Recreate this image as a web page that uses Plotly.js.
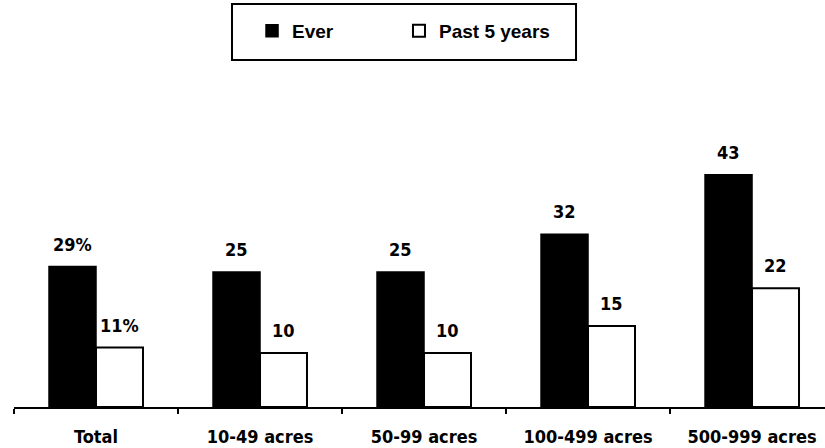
<!DOCTYPE html>
<html>
<head>
<meta charset="utf-8">
<script src="https://cdn.plot.ly/plotly-3.0.1.min.js"></script>
<style>html,body{margin:0;padding:0;background:#fff;}#chart{width:825px;height:448px;}</style>
</head>
<body>
<div id="chart"></div>
<script>
var categories = ["Total", "10-49 acres", "50-99 acres", "100-499 acres", "500-999 acres"];
var everValues = [26, 25, 25, 32, 43];
var past5Values = [11, 10, 10, 15, 22];
var everLabels = ["29%", "25", "25", "32", "43"];
var past5Labels = ["11%", "10", "10", "15", "22"];

var labelFont = {family: "'DejaVu Sans Condensed', 'DejaVu Sans', sans-serif", size: 18, color: "#000", weight: 700};
var legendFont = {family: "'Liberation Sans', Arial, sans-serif", size: 19, color: "#000", weight: 700};

var traces = [
  {type: "bar", name: "Ever", x: categories, y: everValues, legend: "legend",
   marker: {color: "#000", line: {color: "#000", width: 1.5}}, hoverinfo: "skip"},
  {type: "bar", name: "Past 5 years", x: categories, y: past5Values, legend: "legend2",
   marker: {color: "#fff", line: {color: "#000", width: 2}}, hoverinfo: "skip"}
];

var halfGroup = 0.5 * (1 - 0.427) / 2;
var annotations = [];
categories.forEach(function (c, i) {
  annotations.push({x: i - halfGroup, y: everValues[i], xref: "x", yref: "y", text: everLabels[i],
    showarrow: false, yanchor: "bottom", yshift: 10, font: labelFont});
  annotations.push({x: i + halfGroup, y: past5Values[i], xref: "x", yref: "y", text: past5Labels[i],
    showarrow: false, yanchor: "bottom", yshift: 10, font: labelFont});
});

var layout = {
  width: 825, height: 448,
  margin: {l: 14, r: 0, t: 137, b: 41, pad: 0},
  paper_bgcolor: "#fff", plot_bgcolor: "#fff",
  barmode: "group", bargap: 0.427, bargroupgap: 0,
  showlegend: true,
  legend: {orientation: "h", x: 0.2935, xanchor: "left", y: 1.3926, yanchor: "middle",
    bgcolor: "rgba(0,0,0,0)", borderwidth: 0, font: legendFont},
  legend2: {orientation: "h", x: 0.4747, xanchor: "left", y: 1.3926, yanchor: "middle",
    bgcolor: "rgba(0,0,0,0)", borderwidth: 0, font: legendFont},
  xaxis: {type: "category", range: [-0.5, 4.445], showgrid: false, zeroline: false,
    showline: true, linecolor: "#000", linewidth: 2,
    ticks: "outside", tickson: "boundaries", ticklen: 5, tickwidth: 2, tickcolor: "#000",
    ticklabelstandoff: 12,
    tickfont: labelFont, fixedrange: true},
  yaxis: {range: [0, 50], visible: false, showgrid: false, zeroline: false, fixedrange: true},
  shapes: [{type: "rect", xref: "paper", yref: "paper", x0: 0.2688, x1: 0.6930, y0: 1.2852, y1: 1.4926,
    line: {color: "#000", width: 2}, fillcolor: "rgba(0,0,0,0)"}],
  annotations: annotations
};

Plotly.newPlot("chart", traces, layout, {displayModeBar: false, staticPlot: true});
</script>
</body>
</html>
